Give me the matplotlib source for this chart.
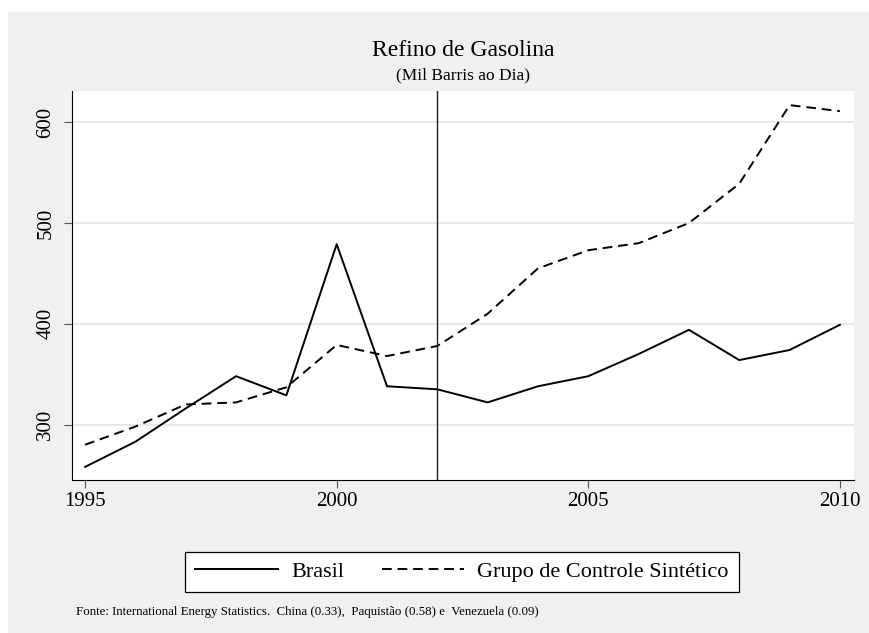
import matplotlib.pyplot as plt
from matplotlib.patches import Rectangle

plt.rcParams['font.family'] = ['Liberation Serif', 'DejaVu Serif']

anos = list(range(1995, 2011))
brasil = [258, 283, 316, 348, 329, 479, 338, 335, 322, 338, 348, 370, 394, 364, 374, 399]
sintetico = [280, 298, 320, 322, 337, 379, 368, 378, 410, 455, 473, 480, 500, 539, 617, 611]
ano_tratamento = 2002
yticks = [300, 400, 500, 600]
xticks = [1995, 2000, 2005, 2010]

W, H = 869, 633
fig = plt.figure(figsize=(W / 100, H / 100), dpi=100)
fig.patch.set_facecolor('white')
# gray graph region (Stata look)
fig.patches.append(Rectangle((8 / W, 0), 1, 1 - 12 / H,
                             transform=fig.transFigure, facecolor='#f0f0f0',
                             edgecolor='none', zorder=-5))

ax = fig.add_axes([72 / W, 1 - 480 / H, (854 - 72) / W, (480 - 91) / H])
ax.set_facecolor('white')

ax.plot(anos, brasil, color='black', lw=1.4, label='Brasil')
ax.plot(anos, sintetico, color='black', lw=1.4, ls=(0, (5, 3)),
        label='Grupo de Controle Sintético')
ax.axvline(ano_tratamento, color='#222222', lw=1.0)

ax.set_xlim(1994.74, 2010.28)
ax.set_ylim(245, 631)
ax.set_xticks(xticks)
ax.set_yticks(yticks)
ax.grid(axis='y', color='#e8e8e8', lw=1.4)
ax.set_axisbelow(True)
for s in ['top', 'right']:
    ax.spines[s].set_visible(False)
ax.tick_params(axis='both', direction='out', length=6, color='#555555',
               labelsize=15)
ax.tick_params(axis='x', pad=3)
ax.tick_params(axis='y', pad=6)
for lab in ax.get_yticklabels():
    lab.set_rotation(90)
    lab.set_va('center')

cx = (72 + 854) / 2 / W
fig.text(cx, 1 - 56 / H, 'Refino de Gasolina', ha='center', va='baseline',
         fontsize=17)
fig.text(cx, 1 - 79 / H, '(Mil Barris ao Dia)', ha='center', va='baseline',
         fontsize=12.5)

leg = fig.legend(loc='center', bbox_to_anchor=(462 / W, 1 - 572 / H),
                 ncol=2, frameon=True, fancybox=False, edgecolor='black',
                 framealpha=1, fontsize=16, handlelength=3.7,
                 columnspacing=1.7, borderpad=0.45, handletextpad=0.6)
leg.get_frame().set_linewidth(0.9)

fig.text(76 / W, 1 - 615 / H,
         'Fonte: International Energy Statistics.  China (0.33),  Paquistão (0.58) e  Venezuela (0.09)',
         ha='left', va='baseline', fontsize=9.3)

fig.savefig('out.png', dpi=100, facecolor=fig.get_facecolor())
